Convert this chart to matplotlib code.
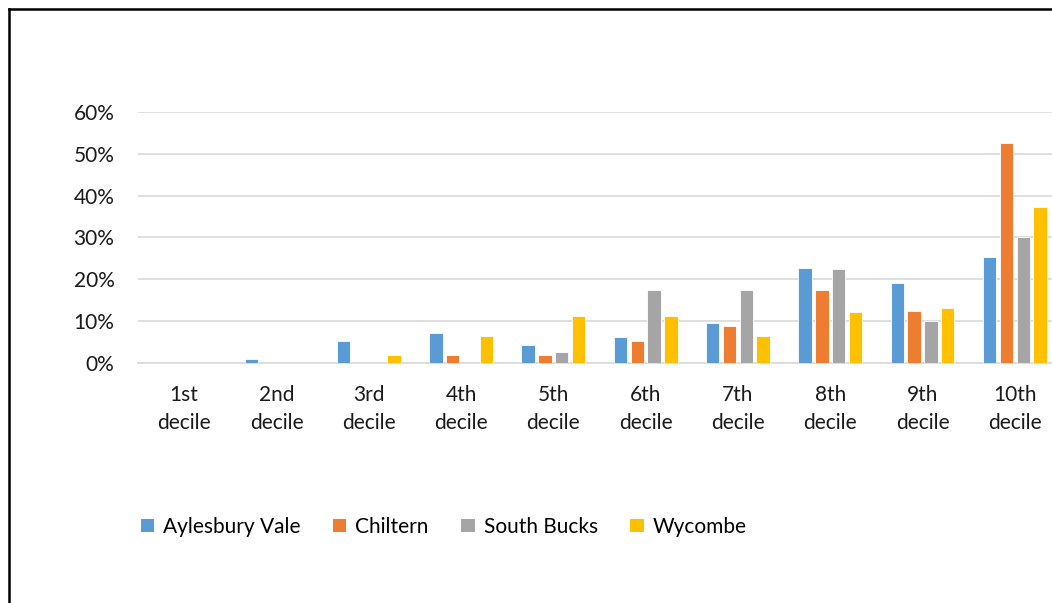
import numpy as np
import matplotlib.pyplot as plt
from matplotlib.lines import Line2D
from matplotlib.patches import Patch
from matplotlib.ticker import PercentFormatter

plt.rcParams['font.family'] = ['Lato', 'DejaVu Sans']

# data (fractions)
deciles = ['1st\ndecile', '2nd\ndecile', '3rd\ndecile', '4th\ndecile', '5th\ndecile',
           '6th\ndecile', '7th\ndecile', '8th\ndecile', '9th\ndecile', '10th\ndecile']
aylesbury = [0.000, 0.009, 0.052, 0.070, 0.042, 0.061, 0.096, 0.226, 0.191, 0.252]
chiltern  = [0.000, 0.000, 0.000, 0.018, 0.018, 0.053, 0.088, 0.175, 0.124, 0.526]
south_bucks = [0.000, 0.000, 0.000, 0.000, 0.025, 0.175, 0.175, 0.224, 0.100, 0.300]
wycombe   = [0.000, 0.000, 0.018, 0.065, 0.112, 0.112, 0.065, 0.121, 0.131, 0.373]

series = [('Aylesbury Vale', aylesbury, '#5B9BD5'),
          ('Chiltern', chiltern, '#ED7D31'),
          ('South Bucks', south_bucks, '#A5A5A5'),
          ('Wycombe', wycombe, '#FFC000')]

W, H = 1052, 603
fig = plt.figure(figsize=(W / 100, H / 100), dpi=100)
ax = fig.add_axes([138 / W, 1 - 362.7 / H, (1061 - 138) / W, (362.7 - 112) / H])

x = np.arange(len(deciles))
slot = 0.182
bw = 0.145
for i, (name, vals, col) in enumerate(series):
    ax.bar(x + (i - 1.5) * slot, vals, width=bw, color=col,
           edgecolor='white', linewidth=0.6, label=name, zorder=3)

ax.set_xlim(-0.5, len(deciles) - 0.5)
ax.set_ylim(0, 0.6)
ax.set_yticks(np.arange(0, 0.61, 0.1))
ax.yaxis.set_major_formatter(PercentFormatter(1.0, decimals=0))
ax.grid(axis='y', color='#d9d9d9', linewidth=1.2, zorder=0)
ax.set_xticks(x)
ax.set_xticklabels(deciles, linespacing=1.5)
ax.tick_params(axis='both', length=0, labelsize=15, colors='#1a1a1a')
ax.tick_params(axis='y', pad=17)
ax.tick_params(axis='x', pad=16)
for s in ['top', 'right', 'left']:
    ax.spines[s].set_visible(False)
ax.spines['bottom'].set_color('#d9d9d9')
ax.spines['bottom'].set_linewidth(1.2)

handles = [Patch(facecolor=c, edgecolor='none') for _, _, c in series]
fig.legend(handles, [n for n, _, _ in series], loc='center left',
           bbox_to_anchor=(141 / W, 1 - 527 / H), ncol=4, frameon=False,
           fontsize=15, handlelength=0.63, handleheight=0.63,
           handletextpad=0.43, columnspacing=1.57, borderpad=0, borderaxespad=0)

# black frame (cut off on the right and bottom in the reference)
fig.add_artist(Line2D([8.5 / W, 8.5 / W], [0, 1 - 8.5 / H], color='black', lw=1.8))
fig.add_artist(Line2D([8.5 / W, 1], [1 - 8.5 / H, 1 - 8.5 / H], color='black', lw=1.8))

fig.savefig('out.png', dpi=100)
